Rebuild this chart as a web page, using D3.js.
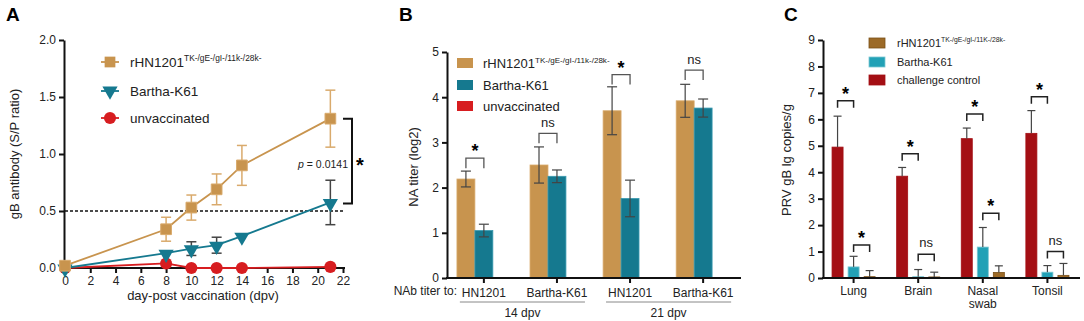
<!DOCTYPE html>
<html>
<head>
<meta charset="utf-8">
<script src="https://cdn.jsdelivr.net/npm/d3@7"></script>
<style>
  body { margin: 0; background: #fff; }
  text { font-family: Arial, "Liberation Sans", sans-serif; }
</style>
</head>
<body>
<div id="chart"></div>
<script>
// ---- Panel A data: gB antibody over time
const daysA = [0, 8, 10, 12, 14, 21];
const rhnMean = [0.02, 0.34, 0.53, 0.69, 0.90, 1.31];
const rhnErr = [0, 0.105, 0.11, 0.135, 0.175, 0.25];
const barMean = [0.0, 0.13, 0.17, 0.20, 0.28, 0.575];
const barErr = [0, 0, 0.06, 0.07, 0, 0.195];
const unvMean = [0.0, 0.04, 0.0, 0.0, 0.0, 0.01];
const xTicksA = d3.range(0, 23, 2);
const yTicksA = [0, 0.5, 1.0, 1.5, 2.0];

// ---- Panel B data: NA titer
const groupsB = ['HN1201', 'Bartha-K61', 'HN1201', 'Bartha-K61'];
const dpvB = ['14 dpv', '21 dpv'];
const rhnB = [2.19, 2.50, 3.70, 3.92];
const rhnBErr = [0.175, 0.40, 0.53, 0.365];
const barB = [1.05, 2.25, 1.76, 3.76];
const barBErr = [0.14, 0.14, 0.405, 0.20];
const unvB = [0, 0, 0, 0];
const sigB = ['*', 'ns', '*', 'ns'];
const sigBTop = [2.65, 3.2, 4.5, 4.6];

// ---- Panel C data: PRV gB copies
const tissuesC = ['Lung', 'Brain', 'Nasal swab', 'Tonsil'];
const ctrlC = [4.95, 3.85, 5.27, 5.47];
const ctrlCErr = [1.17, 0.33, 0.40, 0.86];
const barC = [0.42, 0.05, 1.17, 0.22];
const barCErr = [0.40, 0.27, 0.74, 0.25];
const rhnC = [0.05, 0.04, 0.21, 0.10];
const rhnCErr = [0.23, 0.18, 0.25, 0.45];
const sigC1 = ['*', '*', '*', '*'];
const sigC1Top = [6.7, 4.7, 6.2, 6.85];
const sigC2 = ['*', 'ns', '*', 'ns'];
const sigC2Top = [1.25, 0.9, 2.45, 1.0];

const tan = '#c8944e', teal = '#15798f', red = '#d71d20';
const brownC = '#9c6a27', tealC = '#22a1b6', redC = '#a40f14';
const errGray = '#444';

const svg = d3.select('#chart').append('svg')
  .attr('width', 1084).attr('height', 321);

function supLabel(g, x, y, main, sup, size) {
  const t = g.append('text').attr('x', x).attr('y', y)
    .attr('font-size', size).attr('fill', '#222');
  t.append('tspan').text(main);
  t.append('tspan').text(sup).attr('font-size', size * 0.62).attr('dy', -size * 0.42);
  return t;
}

function styleAxis(sel) {
  sel.select('.domain').attr('stroke', '#111').attr('stroke-width', 2);
  sel.selectAll('.tick line').attr('stroke', '#111').attr('stroke-width', 2);
  sel.selectAll('.tick text').attr('fill', '#222').attr('font-size', 12)
    .attr('font-family', 'Arial, "Liberation Sans", sans-serif');
}

// ================= Panel A =================
{
  const g = svg.append('g');
  const x = d3.scaleLinear().domain([0, 22]).range([65, 343]);
  const y = d3.scaleLinear().domain([0, 2]).range([268, 40]);

  g.append('text').text('A').attr('x', 6).attr('y', 21)
    .attr('font-size', 19).attr('font-weight', 'bold');

  g.append('g').attr('transform', 'translate(0,268)')
    .call(d3.axisBottom(x).tickValues(xTicksA).tickSize(5).tickSizeOuter(0))
    .call(styleAxis)
    .select('.domain').attr('d', 'M62,0H345');
  g.append('g').attr('transform', 'translate(64,0)')
    .call(d3.axisLeft(y).tickValues(yTicksA).tickFormat(d3.format('.1f')).tickSize(5).tickSizeOuter(0))
    .call(styleAxis);

  g.append('text').text('day-post vaccination (dpv)')
    .attr('x', 203).attr('y', 300).attr('text-anchor', 'middle')
    .attr('font-size', 13).attr('fill', '#222');
  g.append('text').text('gB antibody (S/P ratio)')
    .attr('transform', 'translate(19,154) rotate(-90)')
    .attr('text-anchor', 'middle').attr('font-size', 13).attr('fill', '#222');

  // threshold
  g.append('line').attr('x1', x(0)).attr('x2', 345)
    .attr('y1', y(0.5)).attr('y2', y(0.5))
    .attr('stroke', '#111').attr('stroke-width', 1.3).attr('stroke-dasharray', '3,2');

  const line = d3.line().x((d, i) => x(daysA[i])).y(d => y(d));

  function errBars(means, errs, color) {
    means.forEach((m, i) => {
      if (!errs[i]) return;
      const cx = x(daysA[i]);
      const eg = g.append('g').attr('stroke', color).attr('stroke-width', 1.5);
      eg.append('line').attr('x1', cx).attr('x2', cx).attr('y1', y(m - errs[i])).attr('y2', y(m + errs[i]));
      [m - errs[i], m + errs[i]].forEach(v => {
        eg.append('line').attr('x1', cx - 5).attr('x2', cx + 5).attr('y1', y(v)).attr('y2', y(v));
      });
    });
  }
  errBars(rhnMean, rhnErr, '#d9aa6c');
  errBars(barMean, barErr, errGray);

  g.append('path').datum(unvMean).attr('d', line).attr('fill', 'none')
    .attr('stroke', red).attr('stroke-width', 1.8);
  g.append('path').datum(barMean).attr('d', line).attr('fill', 'none')
    .attr('stroke', teal).attr('stroke-width', 1.8);
  g.append('path').datum(rhnMean).attr('d', line).attr('fill', 'none')
    .attr('stroke', tan).attr('stroke-width', 1.8);

  const sq = d3.symbol().type(d3.symbolSquare).size(115);
  const tri = d3.symbol().type(d3.symbolTriangle).size(100);
  const circ = d3.symbol().type(d3.symbolCircle).size(115);

  g.selectAll('.mu').data(unvMean).join('path')
    .attr('d', circ).attr('fill', red)
    .attr('transform', (d, i) => `translate(${x(daysA[i])},${y(d)})`);
  g.selectAll('.mb').data(barMean).join('path')
    .attr('d', tri).attr('fill', teal)
    .attr('transform', (d, i) => `translate(${x(daysA[i])},${y(d) + 1}) rotate(180)`);
  g.selectAll('.mr').data(rhnMean).join('path')
    .attr('d', sq).attr('fill', tan).attr('stroke', '#d9aa6c').attr('stroke-width', 1)
    .attr('transform', (d, i) => `translate(${x(daysA[i])},${y(d)})`);

  // significance bracket
  const bx = 352;
  g.append('path')
    .attr('d', `M343,${y(rhnMean[5])}H${bx}V${y(barMean[5]) + 1}H343`)
    .attr('fill', 'none').attr('stroke', '#111').attr('stroke-width', 2);
  g.append('text').text('*').attr('x', 360).attr('y', 172)
    .attr('font-size', 20).attr('font-weight', 'bold').attr('text-anchor', 'middle');
  const pt = g.append('text').attr('x', 348).attr('y', 168).attr('text-anchor', 'end')
    .attr('font-size', 10.5).attr('fill', '#222');
  pt.append('tspan').text('p').attr('font-style', 'italic');
  pt.append('tspan').text(' = 0.0141');

  // legend
  const leg = [
    { label: 'rHN1201', sup: 'TK-/gE-/gI-/11k-/28k-', color: tan, sym: sq, rot: 0, y: 62 },
    { label: 'Bartha-K61', sup: '', color: teal, sym: tri, rot: 180, y: 91 },
    { label: 'unvaccinated', sup: '', color: red, sym: circ, rot: 0, y: 118 },
  ];
  leg.forEach(l => {
    g.append('line').attr('x1', 101).attr('x2', 119).attr('y1', l.y).attr('y2', l.y)
      .attr('stroke', l.color).attr('stroke-width', 1.8);
    g.append('path').attr('d', l.sym).attr('fill', l.color)
      .attr('transform', `translate(110,${l.y}) rotate(${l.rot})`);
    supLabel(g, 130, l.y + 5, l.label, l.sup, 13.5);
  });
}

// ================= Panel B =================
{
  const g = svg.append('g');
  // three bars per group (unvaccinated is zero); tick sits on the middle bar
  const x0 = d3.scaleBand().domain(d3.range(4)).range([447, 740]).paddingInner(0.263).paddingOuter(0.136);
  const x1 = d3.scaleBand().domain([0, 1, 2]).range([0, x0.bandwidth()]);
  const y = d3.scaleLinear().domain([0, 5]).range([278, 52]);

  g.append('text').text('B').attr('x', 399).attr('y', 21)
    .attr('font-size', 19).attr('font-weight', 'bold');

  const seriesB = [[rhnB, rhnBErr, tan, '#d9aa6c'], [barB, barBErr, teal, '#3a9ab0'], [unvB, unvB, red, red]];
  d3.range(4).forEach(i => {
    const gx = x0(i);
    seriesB.forEach(([vals, errs, col, edge], k) => {
      if (!vals[i]) return;
      g.append('rect').attr('x', gx + x1(k)).attr('width', x1.bandwidth())
        .attr('y', y(vals[i])).attr('height', y(0) - y(vals[i]))
        .attr('fill', col).attr('stroke', edge).attr('stroke-width', 0.8);
      const cx = gx + x1(k) + x1.bandwidth() / 2;
      const eg = g.append('g').attr('stroke', errGray).attr('stroke-width', 1.2);
      eg.append('line').attr('x1', cx).attr('x2', cx)
        .attr('y1', y(vals[i] - errs[i])).attr('y2', y(vals[i] + errs[i]));
      [vals[i] - errs[i], vals[i] + errs[i]].forEach(v => {
        eg.append('line').attr('x1', cx - 5).attr('x2', cx + 5).attr('y1', y(v)).attr('y2', y(v));
      });
    });
    // bracket
    const c0 = gx + x1(0) + x1.bandwidth() / 2, c1 = gx + x1(1) + x1.bandwidth() / 2;
    const ty = y(sigBTop[i]);
    g.append('path').attr('d', `M${c0},${ty + 10}V${ty}H${c1}V${ty + 10}`)
      .attr('fill', 'none').attr('stroke', '#555').attr('stroke-width', 1.3);
    if (sigB[i] === '*') {
      g.append('text').text('*').attr('x', (c0 + c1) / 2).attr('y', ty - 1)
        .attr('text-anchor', 'middle').attr('font-size', 18).attr('font-weight', 'bold');
    } else {
      g.append('text').text('ns').attr('x', (c0 + c1) / 2).attr('y', ty - 6)
        .attr('text-anchor', 'middle').attr('font-size', 13).attr('fill', '#222');
    }
  });

  const xa = g.append('g').attr('transform', 'translate(0,278)')
    .call(d3.axisBottom(x0).tickFormat(i => groupsB[i]).tickSize(5).tickSizeOuter(0))
    .call(styleAxis);
  xa.select('.domain').attr('d', 'M446,0H741');
  xa.selectAll('.tick text').attr('dy', '0.9em');
  g.append('g').attr('transform', 'translate(447,0)')
    .call(d3.axisLeft(y).ticks(5).tickSize(5).tickSizeOuter(0))
    .call(styleAxis);

  g.append('text').text('NAb titer to:').attr('x', 457).attr('y', 295)
    .attr('text-anchor', 'end').attr('font-size', 12).attr('fill', '#222');

  // dpv groups
  const mid = i => x0(i) + x0.bandwidth() / 2;
  [[0, 1], [2, 3]].forEach((pair, k) => {
    const xa0 = mid(pair[0]) - 24, xa1 = mid(pair[1]) + 28;
    g.append('line').attr('x1', xa0).attr('x2', xa1).attr('y1', 302).attr('y2', 302)
      .attr('stroke', '#888').attr('stroke-width', 1);
    g.append('text').text(dpvB[k]).attr('x', (xa0 + xa1) / 2).attr('y', 317)
      .attr('text-anchor', 'middle').attr('font-size', 12).attr('fill', '#222');
  });

  g.append('text').text('NA titer (log2)')
    .attr('transform', 'translate(418,167) rotate(-90)')
    .attr('text-anchor', 'middle').attr('font-size', 13).attr('fill', '#222');

  const leg = [
    { label: 'rHN1201', sup: 'TK-/gE-/gI-/11k-/28k-', color: tan, y: 63 },
    { label: 'Bartha-K61', sup: '', color: teal, y: 85 },
    { label: 'unvaccinated', sup: '', color: red, y: 106 },
  ];
  leg.forEach(l => {
    g.append('rect').attr('x', 457).attr('y', l.y - 5).attr('width', 16).attr('height', 10)
      .attr('fill', l.color);
    supLabel(g, 483, l.y + 5, l.label, l.sup, 13);
  });
}

// ================= Panel C =================
{
  const g = svg.append('g');
  const x0 = d3.scaleBand().domain(d3.range(4)).range([823, 1078]).paddingInner(0.333).paddingOuter(0.14);
  const x1 = d3.scaleBand().domain([0, 1, 2]).range([0, x0.bandwidth()]).paddingInner(0.3125);
  const y = d3.scaleLinear().domain([0, 9]).range([278, 40]);

  g.append('text').text('C').attr('x', 784).attr('y', 21)
    .attr('font-size', 19).attr('font-weight', 'bold');

  const series = [[ctrlC, ctrlCErr, redC, redC], [barC, barCErr, tealC, '#7cc7d3'], [rhnC, rhnCErr, brownC, '#7a5018']];
  d3.range(4).forEach(i => {
    const gx = x0(i);
    const centers = [];
    series.forEach(([vals, errs, col, edge], k) => {
      const bx = gx + x1(k);
      const cx = bx + x1.bandwidth() / 2;
      centers.push(cx);
      g.append('rect').attr('x', bx).attr('width', x1.bandwidth())
        .attr('y', y(vals[i])).attr('height', y(0) - y(vals[i]))
        .attr('fill', col).attr('stroke', edge).attr('stroke-width', 0.8);
      const eg = g.append('g').attr('stroke', errGray).attr('stroke-width', 1.2);
      eg.append('line').attr('x1', cx).attr('x2', cx)
        .attr('y1', y(vals[i])).attr('y2', y(vals[i] + errs[i]));
      eg.append('line').attr('x1', cx - 4).attr('x2', cx + 4)
        .attr('y1', y(vals[i] + errs[i])).attr('y2', y(vals[i] + errs[i]));
    });
    [[0, 1, sigC1, sigC1Top], [1, 2, sigC2, sigC2Top]].forEach(([a, b, sig, tops]) => {
      const ty = y(tops[i]);
      const c0 = centers[a], c1 = centers[b];
      g.append('path').attr('d', `M${c0},${ty + 7}V${ty}H${c1}V${ty + 7}`)
        .attr('fill', 'none').attr('stroke', '#222').attr('stroke-width', 1.5);
      if (sig[i] === '*') {
        g.append('text').text('*').attr('x', (c0 + c1) / 2).attr('y', ty - 1)
          .attr('text-anchor', 'middle').attr('font-size', 18).attr('font-weight', 'bold');
      } else {
        g.append('text').text('ns').attr('x', (c0 + c1) / 2).attr('y', ty - 7)
          .attr('text-anchor', 'middle').attr('font-size', 13).attr('fill', '#222');
      }
    });
  });

  const xa = g.append('g').attr('transform', 'translate(0,278)')
    .call(d3.axisBottom(x0).tickFormat(() => '').tickSize(5).tickSizeOuter(0))
    .call(styleAxis);
  xa.select('.domain').attr('d', 'M822,0H1080');
  tissuesC.forEach((t, i) => {
    const words = t.split(' ');
    const tx = g.append('text').attr('x', x0(i) + x0.bandwidth() / 2).attr('y', 295)
      .attr('text-anchor', 'middle').attr('font-size', 12).attr('fill', '#222');
    words.forEach((w, k) => {
      tx.append('tspan').text(w).attr('x', x0(i) + x0.bandwidth() / 2).attr('dy', k ? 13 : 0);
    });
  });
  g.append('g').attr('transform', 'translate(823,0)')
    .call(d3.axisLeft(y).ticks(9).tickSize(5).tickSizeOuter(0))
    .call(styleAxis);

  g.append('text').text('PRV gB lg copies/g')
    .attr('transform', 'translate(791,160) rotate(-90)')
    .attr('text-anchor', 'middle').attr('font-size', 13).attr('fill', '#222');

  const leg = [
    { label: 'rHN1201', sup: 'TK-/gE-/gI-/11K-/28k-', color: brownC, edge: '#7a5018', y: 43 },
    { label: 'Bartha-K61', sup: '', color: tealC, edge: '#7cc7d3', y: 62 },
    { label: 'challenge control', sup: '', color: redC, edge: redC, y: 80 },
  ];
  leg.forEach(l => {
    g.append('rect').attr('x', 869).attr('y', l.y - 5).attr('width', 16).attr('height', 10)
      .attr('fill', l.color).attr('stroke', l.edge).attr('stroke-width', 0.8);
    supLabel(g, 897, l.y + 4, l.label, l.sup, 11);
  });
}
</script>
</body>
</html>
